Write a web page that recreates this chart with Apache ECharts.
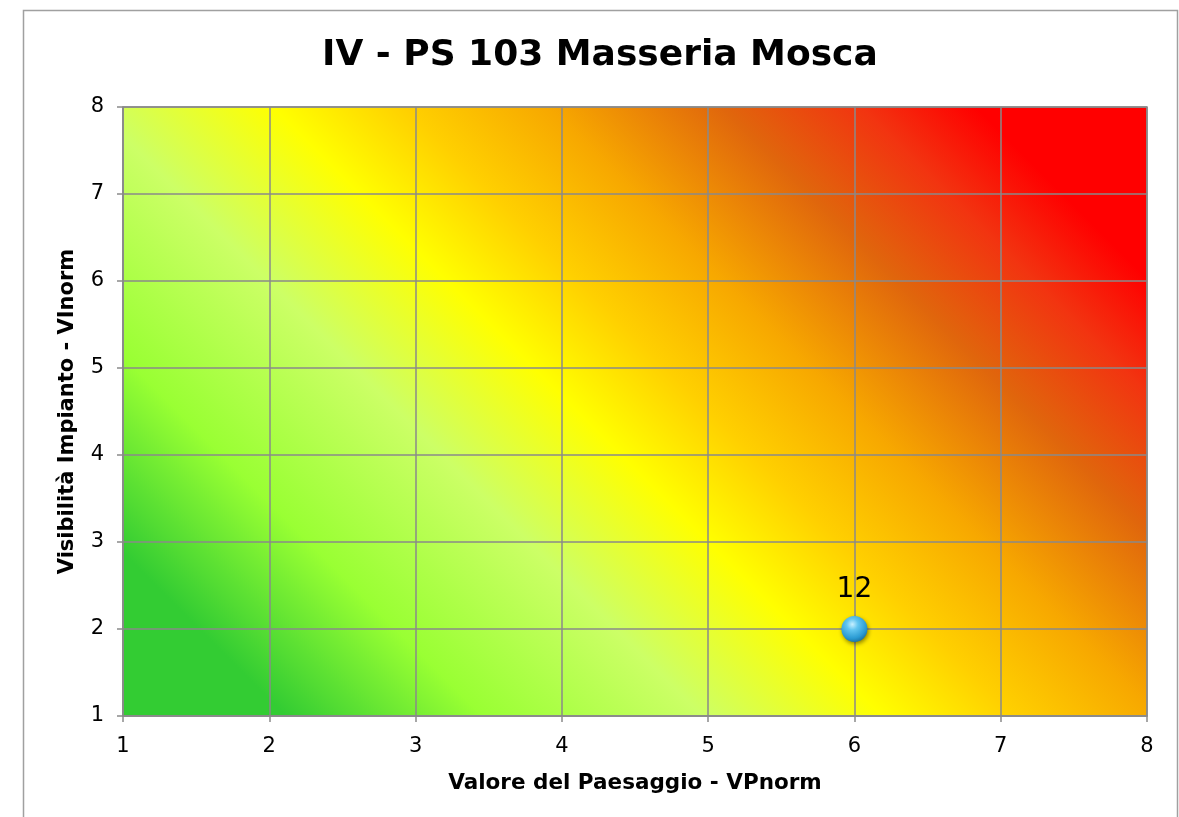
<!DOCTYPE html>
<html>
<head>
<meta charset="utf-8">
<title>IV - PS 103 Masseria Mosca</title>
<script src="https://cdn.jsdelivr.net/npm/echarts@6/dist/echarts.min.js"></script>
<style>
  html, body { margin: 0; padding: 0; background: #ffffff; }
  #chart { width: 1179px; height: 817px; }
</style>
</head>
<body>
<div id="chart"></div>
<script>
// Receptor point: landscape value (VPnorm), plant visibility (VInorm), impact score
const vpValues = [6];
const viValues = [2];
const impactLabels = ['12'];

// Axis ranges and tick labels
const axisMin = 1;
const axisMax = 8;
const tickLabels = ['1', '2', '3', '4', '5', '6', '7', '8'];

const chartTitle = 'IV - PS 103 Masseria Mosca';
const xAxisName = 'Valore del Paesaggio - VPnorm';
const yAxisName = 'Visibilità Impianto - VInorm';

// Plot area in pixels
const gridLeft = 123, gridTop = 107, gridRight = 32, gridBottom = 101;
const W = 1179, H = 817;
const plotW = W - gridLeft - gridRight;
const plotH = H - gridTop - gridBottom;

// Diagonal impact-scale fill, green (low) to red (high), bands at 45 degrees
const span = (plotW + plotH) / 2;
const x0 = gridLeft, y0 = gridTop + plotH;
const impactFill = new echarts.graphic.LinearGradient(
  x0, y0, x0 + span, y0 - span,
  [
    { offset: 0.00, color: '#33cc33' },
    { offset: 0.10, color: '#33cc33' },
    { offset: 0.22, color: '#99ff33' },
    { offset: 0.355, color: '#ccff66' },
    { offset: 0.465, color: '#ffff00' },
    { offset: 0.545, color: '#ffd000' },
    { offset: 0.633, color: '#f7a800' },
    { offset: 0.74, color: '#e0660c' },
    { offset: 0.825, color: '#f23410' },
    { offset: 0.895, color: '#ff0000' },
    { offset: 1.00, color: '#ff0000' }
  ],
  true
);

const points = vpValues.map((v, i) => ({ value: [v, viValues[i]], label: { formatter: impactLabels[i] } }));

const chart = echarts.init(document.getElementById('chart'), null, { renderer: 'canvas' });

const gridColor = '#8a8a8a';
const fontFamily = 'DejaVu Sans, Liberation Sans, Arial, sans-serif';
const tickFormatter = v => tickLabels[Math.round(v) - axisMin] || '';

chart.setOption({
  animation: false,
  backgroundColor: '#ffffff',
  title: {
    text: chartTitle,
    left: 317,
    top: 33,
    textStyle: { fontFamily, fontSize: 36, fontWeight: 'bold', color: '#000000' }
  },
  graphic: [{
    type: 'rect',
    shape: { x: 23.5, y: 10.5, width: 1154, height: 840 },
    style: { fill: 'none', stroke: '#a0a0a0', lineWidth: 1.5 },
    silent: true,
    z: -1
  }],
  grid: {
    left: gridLeft,
    top: gridTop,
    right: gridRight,
    bottom: gridBottom,
    show: true,
    backgroundColor: impactFill,
    borderColor: gridColor,
    borderWidth: 1.5
  },
  xAxis: {
    type: 'value',
    min: axisMin,
    max: axisMax,
    interval: 1,
    name: xAxisName,
    nameLocation: 'middle',
    nameGap: 56,
    nameTextStyle: { fontFamily, fontSize: 21.5, fontWeight: 'bold', color: '#000' },
    axisLine: { show: true, lineStyle: { color: gridColor, width: 1.5 } },
    axisTick: { show: true, inside: false, length: 6, lineStyle: { color: gridColor, width: 1.5 } },
    axisLabel: { formatter: tickFormatter, margin: 20, fontFamily, fontSize: 21, color: '#000' },
    splitLine: { show: true, lineStyle: { color: gridColor, width: 1.5 } }
  },
  yAxis: {
    type: 'value',
    min: axisMin,
    max: axisMax,
    interval: 1,
    name: yAxisName,
    nameLocation: 'middle',
    nameGap: 45,
    nameRotate: 90,
    nameTextStyle: { fontFamily, fontSize: 21, fontWeight: 'bold', color: '#000' },
    axisLine: { show: true, lineStyle: { color: gridColor, width: 1.5 } },
    axisTick: { show: true, inside: false, length: 6, lineStyle: { color: gridColor, width: 1.5 } },
    axisLabel: { formatter: tickFormatter, margin: 19, fontFamily, fontSize: 21, color: '#000' },
    splitLine: { show: true, lineStyle: { color: gridColor, width: 1.5 } }
  },
  series: [{
    type: 'scatter',
    data: points,
    symbol: 'circle',
    symbolSize: 26,
    itemStyle: {
      color: {
        type: 'radial', x: 0.42, y: 0.32, r: 0.72,
        colorStops: [
          { offset: 0, color: '#c8f0ff' },
          { offset: 0.3, color: '#62c6f0' },
          { offset: 0.75, color: '#2a9ad2' },
          { offset: 1, color: '#1a6f9c' }
        ]
      },
      opacity: 1,
      shadowBlur: 4,
      shadowColor: 'rgba(0,0,0,0.45)',
      shadowOffsetX: 1,
      shadowOffsetY: 2
    },
    emphasis: { disabled: true },
    label: {
      show: true,
      position: 'top',
      distance: 12,
      fontFamily,
      fontSize: 28,
      color: '#000000',
      opacity: 1
    }
  }]
});
</script>
</body>
</html>
